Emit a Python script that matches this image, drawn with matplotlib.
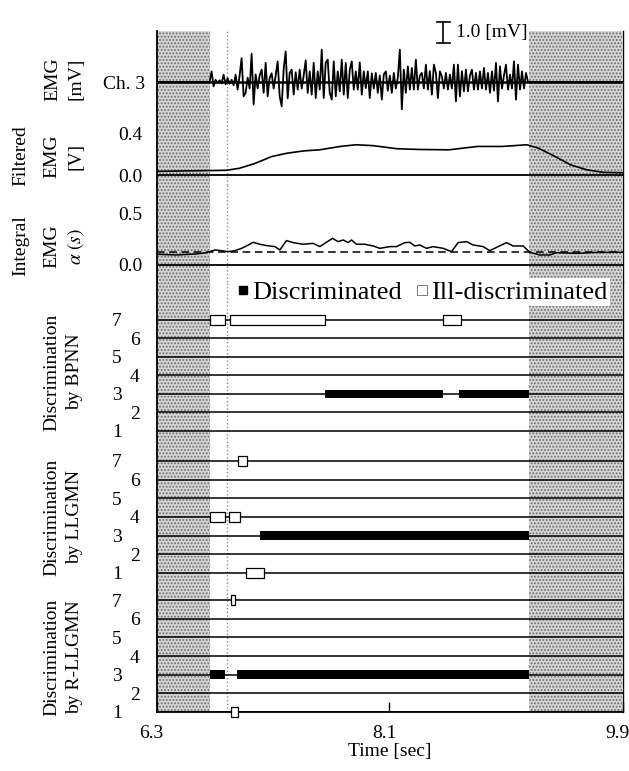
import numpy as np
import matplotlib
matplotlib.use('Agg')
import matplotlib.pyplot as plt
from matplotlib.lines import Line2D
from matplotlib.transforms import ScaledTranslation

plt.rcParams['font.family'] = ['Liberation Serif', 'DejaVu Serif']
plt.rcParams['mathtext.fontset'] = 'stix'
plt.rcParams['hatch.linewidth'] = 0.9

# ---- data ----
t_min, t_max = 6.3, 9.9
shade_spans = [(6.3, 6.717), (9.18, 9.9)]   # rest periods (grey)
cue_t = 6.846                                 # dotted marker line

# raw EMG ch.3 [mV], sampled between rest periods
emg_mv = [
    0.00, 0.49, -0.20, 0.10, -0.05, 0.08, -0.06, 0.34, -0.10, 0.18,
    -0.08, 0.10, -0.15, 0.34, -0.35, 0.30, 1.10, -0.66, -0.50, 0.20,
    -0.30, 1.30, -1.04, 0.35, -0.30, 0.30, 0.57, -0.50, 0.88, -0.66,
    0.20, 0.40, -0.30, 0.30, 0.95, -0.66, -1.12, 0.60, 1.41, -0.75,
    0.42, 0.57, -0.58, 0.45, -0.35, 0.57, -0.30, 0.30, 1.00, -0.50,
    0.49, -0.58, 0.88, -0.74, 0.49, -0.35, 1.49, -0.74, 0.90, 1.03,
    -0.50, -0.81, 0.95, -0.66, 0.49, -0.43, 1.03, -0.58, 0.88, -0.74,
    0.57, 0.95, -0.35, 0.49, -0.35, 0.90, -0.58, 0.49, -0.28, 0.49,
    -0.74, 0.40, -0.30, 0.42, -0.50, 0.30, -0.81, 0.35, 0.49, -0.40,
    0.30, -0.50, 0.42, -0.30, 0.20, 1.49, -1.27, 0.57, -0.50, 0.72,
    -0.35, 0.65, -0.35, 1.03, -0.35, 0.30, 0.42, -0.30, 0.80, -0.35,
    0.50, -0.58, 0.80, 0.42, -0.74, 0.49, 0.26, -0.30, 0.42, -0.35,
    0.34, -0.30, 0.80, -0.89, 0.80, -0.66, 0.50, -0.43, 0.57, -0.43,
    0.30, 0.57, -0.35, 0.42, -0.35, 0.49, -0.30, 0.65, -0.35, 0.42,
    -0.50, 0.49, -0.40, 0.88, -0.89, 0.72, -0.30, 0.30, 0.80, -0.35,
    0.34, -0.30, 0.95, -0.81, 0.80, -0.35, 0.49, -0.30, 0.42, 0.00,
]
emg_start, emg_end = 6.71, 9.17

# filtered EMG [V]
filt_t = [6.30, 6.84, 6.94, 7.06, 7.19, 7.31, 7.44, 7.56, 7.72, 7.84, 7.97, 8.16,
          8.34, 8.56, 8.78, 8.97, 9.16, 9.25, 9.38, 9.50, 9.63, 9.75, 9.90]
filt_v = [0.035, 0.045, 0.064, 0.110, 0.176, 0.208, 0.230, 0.240, 0.272, 0.288, 0.280, 0.250,
          0.243, 0.240, 0.272, 0.272, 0.288, 0.256, 0.176, 0.096, 0.048, 0.026, 0.022]

# integral EMG alpha(s)
int_t = [6.30, 6.455, 6.609, 6.686, 6.751, 6.802, 6.854, 6.905, 6.957, 6.995, 7.047, 7.098,
         7.150, 7.214, 7.253, 7.304, 7.356, 7.433, 7.510, 7.562, 7.600, 7.660, 7.703, 7.742,
         7.781, 7.806, 7.845, 7.909, 7.974, 8.025, 8.103, 8.154, 8.218, 8.257, 8.296, 8.334,
         8.386, 8.437, 8.515, 8.579, 8.630, 8.695, 8.746, 8.824, 8.875, 8.939, 9.004, 9.055,
         9.133, 9.184, 9.261, 9.339, 9.390, 9.545, 9.699, 9.90]
int_v = [0.105, 0.098, 0.108, 0.121, 0.147, 0.140, 0.131, 0.140, 0.163, 0.186, 0.222, 0.203,
         0.190, 0.180, 0.147, 0.239, 0.219, 0.203, 0.212, 0.180, 0.212, 0.261, 0.229, 0.245,
         0.219, 0.245, 0.203, 0.203, 0.186, 0.163, 0.180, 0.180, 0.219, 0.222, 0.186, 0.196,
         0.163, 0.180, 0.163, 0.131, 0.219, 0.229, 0.196, 0.180, 0.140, 0.180, 0.219, 0.186,
         0.186, 0.124, 0.098, 0.098, 0.121, 0.114, 0.124, 0.124]
int_threshold = 0.125

# discrimination results: (class, start, end)
classes = [1, 2, 3, 4, 5, 6, 7]
bpnn_ok = [(3, 7.60, 8.512), (3, 8.636, 9.18)]
bpnn_ill = [(7, 6.717, 6.826), (7, 6.864, 7.60), (7, 8.513, 8.651)]
llgmn_ok = [(3, 7.10, 9.18)]
llgmn_ill = [(7, 6.933, 7.0), (4, 6.717, 6.826), (4, 6.858, 6.945), (1, 6.988, 7.127)]
rllgmn_ok = [(3, 6.717, 6.83), (3, 6.922, 9.18)]
rllgmn_ill = [(7, 6.872, 6.903), (1, 6.875, 6.93)]

# ---- figure ----
W, H = 629, 771
fig = plt.figure(figsize=(W / 100, H / 100), dpi=100)
X0, X1 = 156.5, 622.5


def panel(top, bottom, ylim):
    ax = fig.add_axes([X0 / W, 1 - bottom / H, (X1 - X0) / W, (bottom - top) / H])
    ax.set_xlim(t_min, t_max)
    ax.set_ylim(*ylim)
    for s in ['top', 'bottom']:
        ax.spines[s].set_visible(False)
    ax.spines['left'].set_linewidth(1.3)
    ax.spines['right'].set_linewidth(1.0)
    ax.set_xticks([])
    ax.tick_params(axis='y', length=0, labelsize=14)
    for a, b in shade_spans:
        ax.axvspan(a, b, facecolor='#d4d4d4', edgecolor='#6e6e6e', hatch='.....', lw=0, zorder=0)
    ax.axvline(cue_t, color='#8a8a8a', ls=':', lw=1.0, zorder=1)
    return ax


def ylab(lines, xs, yc):
    for s, x in zip(lines, xs):
        fig.text(x / W, 1 - yc / H, s, rotation=90, ha='center', va='center', fontsize=14)


# raw EMG
ax_emg = panel(31, 110, (-1.29, 2.35))
emg_t = np.concatenate([[t_min], np.linspace(emg_start, emg_end, len(emg_mv)), [t_max]])
emg_y = np.concatenate([[0.0], emg_mv, [0.0]])
ax_emg.axhline(0, color='black', lw=1.8, zorder=2)
ax_emg.plot(emg_t, emg_y, color='black', lw=1.3, zorder=3)
ax_emg.set_yticks([0])
ax_emg.set_yticklabels(['Ch. 3'])
ax_emg.tick_params(axis='y', pad=8)
# 1.0 mV scale bar
ax_emg.plot([8.517, 8.517], [1.78, 2.78], color='black', lw=1.2, clip_on=False)
ax_emg.plot([8.465, 8.569], [2.78, 2.78], color='black', lw=1.2, clip_on=False)
ax_emg.plot([8.465, 8.569], [1.78, 2.78 - 1.0], color='black', lw=1.2, clip_on=False)
ax_emg.text(8.615, 2.3, '1.0 [mV]', fontsize=14, va='center', ha='left', clip_on=False)
ylab(['EMG', '[mV]'], [53, 76], 79)

# filtered EMG
ax_f = panel(110, 185, (-0.095, 0.619))
ax_f.axhline(0, color='black', lw=1.3)
ax_f.plot(filt_t, filt_v, color='black', lw=1.2)
ax_f.set_yticks([0.0, 0.4])
ax_f.set_yticklabels(['0.0', '0.4'])
ax_f.tick_params(axis='y', pad=10)
ylab(['Filtered', 'EMG', '[V]'], [21, 52, 76], 156)

# integral EMG
ax_i = panel(185, 282, (-0.167, 0.784))
ax_i.axhline(0, color='black', lw=1.3)
ax_i.axhline(int_threshold, color='black', lw=1.1, ls=(0, (5, 3)))
ax_i.plot(int_t, int_v, color='black', lw=1.1)
ax_i.set_yticks([0.0, 0.5])
ax_i.set_yticklabels(['0.0', '0.5'])
ax_i.tick_params(axis='y', pad=10)
ylab(['Integral', 'EMG', r'$\alpha\ (s)$'], [21, 52, 76], 246)


def disc_panel(top, bottom, ylim, ok, ill, name, yc):
    ax = panel(top, bottom, ylim)
    for c in classes:
        ax.axhline(c, color='black', lw=1.1, zorder=2)
    for c, a, b in ok:
        coll = ax.broken_barh([(a, b - a)], (c - 0.24, 0.48), facecolors='black', zorder=3)
        coll.set_clip_on(False)
    for c, a, b in ill:
        coll = ax.broken_barh([(a, b - a)], (c - 0.27, 0.54), facecolors='white',
                              edgecolors='black', linewidth=0.9, zorder=3)
        coll.set_clip_on(False)
    ax.set_yticks(classes)
    ax.set_yticklabels([str(c) for c in classes])
    for c, tk in zip(classes, ax.yaxis.get_major_ticks()):
        tk.set_pad(25 if c % 2 else 12)
    ylab(['Discrimination', 'by ' + name], [52, 75], yc)
    return ax


ax_bp = disc_panel(282, 446, (0.189, 9.054), bpnn_ok, bpnn_ill, 'BPNN', 372)
ax_ll = disc_panel(446, 587, (0.25, 7.80), llgmn_ok, llgmn_ill, 'LLGMN', 517)
ax_rl = disc_panel(587, 712, (1.0, 7.70), rllgmn_ok, rllgmn_ill, 'R-LLGMN', 657)
ax_rl.spines['bottom'].set_visible(True)
ax_rl.spines['bottom'].set_linewidth(1.3)
ax_rl.set_xticks([6.3, 8.1, 9.9])
ax_rl.set_xticklabels(['6.3', '8.1', '9.9'])
ax_rl.tick_params(axis='x', direction='in', length=7, width=1.0, labelsize=14, pad=9)
shift = ScaledTranslation(-5 / 100, 0, fig.dpi_scale_trans)
for lab in ax_rl.get_xticklabels():
    lab.set_transform(lab.get_transform() + shift)
ax_rl.set_xlabel('Time [sec]', fontsize=14, labelpad=1)

handles = [Line2D([], [], marker='s', color='black', ls='', markersize=5.5),
           Line2D([], [], marker='s', markerfacecolor='white', markeredgecolor='#666666',
                  markeredgewidth=0.6, ls='', markersize=6.5)]
leg = fig.legend(handles, ['Discriminated', 'Ill-discriminated'], loc='center',
                 bbox_to_anchor=(422 / W, 1 - 292 / H), ncol=2, fontsize=19,
                 handlelength=0.5, handletextpad=0.1, columnspacing=0.5,
                 borderpad=0.1, frameon=True, fancybox=False)
leg.get_frame().set_facecolor('white')
leg.get_frame().set_edgecolor('none')
leg.get_frame().set_alpha(1)

fig.savefig('out.png', dpi=100)
